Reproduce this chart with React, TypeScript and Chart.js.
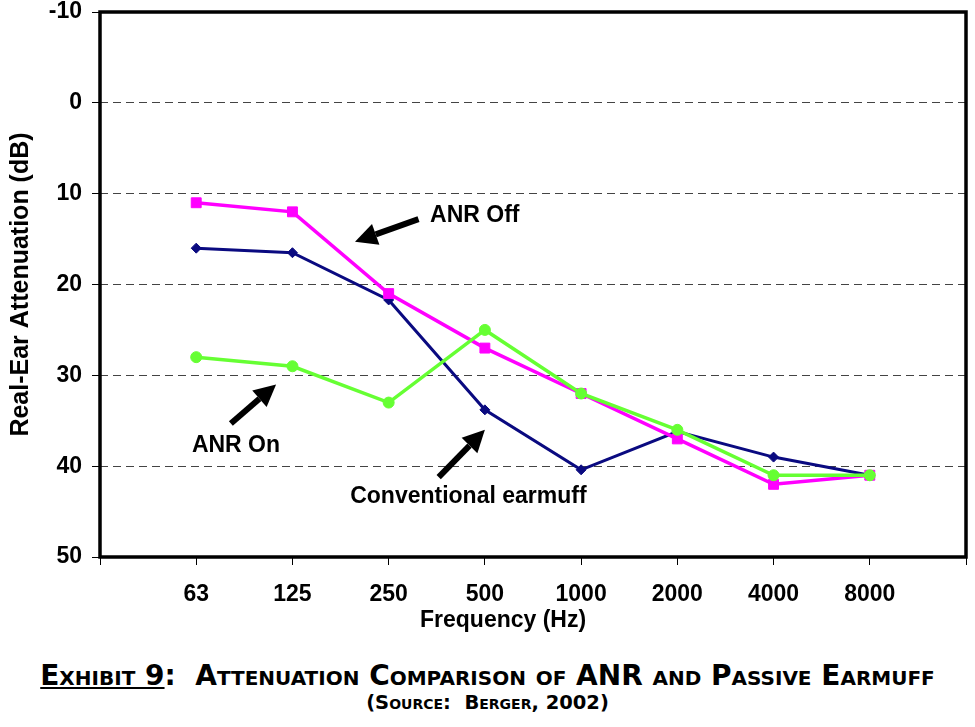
import React, { useEffect, useRef } from "react"
import { Chart, registerables } from "chart.js"

Chart.register(...registerables)

const frequencies = ["63", "125", "250", "500", "1000", "2000", "4000", "8000"]
const conventional = [16, 16.5, 21.7, 33.8, 40.4, 36.2, 39, 41]
const anrOff = [11, 12, 21, 27, 32, 37, 42, 41]
const anrOn = [28, 29, 33, 25, 32, 36, 41, 41]
const yMin = -10
const yMax = 50

// callouts in data units: x = slot index (63 Hz is slot 1), y = dB
const callouts = [
  { text: "ANR Off", tx: 3.43, ty: 12.4, from: [3.31, 12.8], to: [2.65, 15.3] },
  { text: "ANR On", tx: 0.955, ty: 37.7, from: [1.36, 35.3], to: [1.83, 31.0] },
  { text: "Conventional earmuff", tx: 2.6, ty: 43.4, from: [3.52, 41.2], to: [4.0, 36.0] },
]

const FONT = "'Liberation Sans', Arial, sans-serif"

const points = (vals: number[]) => vals.map((v, i) => ({ x: i + 1, y: v }))

const framePlugin = {
  id: "frame",
  afterDraw(chart: Chart) {
    const { ctx, chartArea } = chart
    ctx.save()
    ctx.strokeStyle = "#000"
    ctx.lineWidth = 3.5
    ctx.strokeRect(chartArea.left, chartArea.top, chartArea.right - chartArea.left, chartArea.bottom - chartArea.top)
    ctx.restore()
  },
}

const calloutPlugin = {
  id: "callouts",
  afterDatasetsDraw(chart: Chart) {
    const { ctx } = chart
    const xs = chart.scales.x
    const ys = chart.scales.y
    ctx.save()
    ctx.fillStyle = "#000"
    ctx.strokeStyle = "#000"
    ctx.font = `bold 23px ${FONT}`
    ctx.textBaseline = "middle"
    ctx.textAlign = "left"
    callouts.forEach((c) => {
      ctx.fillText(c.text, xs.getPixelForValue(c.tx), ys.getPixelForValue(c.ty))

      const x1 = xs.getPixelForValue(c.from[0])
      const y1 = ys.getPixelForValue(c.from[1])
      const x2 = xs.getPixelForValue(c.to[0])
      const y2 = ys.getPixelForValue(c.to[1])
      const ang = Math.atan2(y2 - y1, x2 - x1)
      const head = 22
      const half = 11
      const bx = x2 - head * Math.cos(ang)
      const by = y2 - head * Math.sin(ang)

      ctx.lineWidth = 6
      ctx.beginPath()
      ctx.moveTo(x1, y1)
      ctx.lineTo(bx, by)
      ctx.stroke()

      ctx.beginPath()
      ctx.moveTo(x2, y2)
      ctx.lineTo(bx + half * Math.sin(ang), by - half * Math.cos(ang))
      ctx.lineTo(bx - half * Math.sin(ang), by + half * Math.cos(ang))
      ctx.closePath()
      ctx.fill()
    })
    ctx.restore()
  },
}

const AttenuationChart: React.FC = () => {
  const chartRef = useRef<HTMLCanvasElement | null>(null)
  const chartInstance = useRef<Chart | null>(null)

  useEffect(() => {
    if (!chartRef.current) return
    const ctx = chartRef.current.getContext("2d")
    if (!ctx) return
    if (chartInstance.current) chartInstance.current.destroy()

    Chart.defaults.font.family = FONT
    Chart.defaults.color = "#000"

    chartInstance.current = new Chart(ctx, {
      type: "line",
      data: {
        datasets: [
          {
            label: "Conventional earmuff",
            data: points(conventional),
            borderColor: "#0a0a80",
            backgroundColor: "#0a0a80",
            borderWidth: 3,
            pointStyle: "rectRot",
            pointRadius: 5,
            pointBorderWidth: 1,
            order: 3,
          },
          {
            label: "ANR Off",
            data: points(anrOff),
            borderColor: "#ff00ff",
            backgroundColor: "#ff00ff",
            borderWidth: 3.5,
            pointStyle: "rect",
            pointRadius: 7,
            pointBorderWidth: 1,
            order: 2,
          },
          {
            label: "ANR On",
            data: points(anrOn),
            borderColor: "#66ff33",
            backgroundColor: "#66ff33",
            borderWidth: 3.5,
            pointStyle: "circle",
            pointRadius: 5.5,
            pointBorderWidth: 1,
            order: 1,
          },
        ],
      },
      options: {
        animation: false,
        responsive: true,
        maintainAspectRatio: false,
        events: [],
        layout: { padding: { top: 12, right: 9, left: 0, bottom: 0 } },
        plugins: {
          legend: { display: false },
          tooltip: { enabled: false },
        },
        scales: {
          x: {
            type: "linear",
            min: 0,
            max: frequencies.length + 1,
            afterFit: (scale) => {
              scale.height = 93
              scale.paddingLeft = 0
              scale.paddingRight = 0
            },
            ticks: {
              stepSize: 1,
              autoSkip: false,
              maxRotation: 0,
              padding: 16,
              font: { size: 23, weight: "bold" },
              callback: (v) => frequencies[Number(v) - 1] ?? "",
            },
            grid: {
              drawOnChartArea: false,
              drawTicks: true,
              tickLength: 8,
              tickColor: "#000",
              tickWidth: 1,
            },
            border: { display: false },
          },
          y: {
            reverse: true,
            min: yMin,
            max: yMax,
            afterFit: (scale) => {
              scale.width = 100
              scale.paddingTop = 0
              scale.paddingBottom = 0
            },
            ticks: {
              stepSize: 10,
              padding: 10,
              font: { size: 23, weight: "bold" },
            },
            grid: {
              color: (c) => (c.tick && (c.tick.value === yMin || c.tick.value === yMax) ? "rgba(0,0,0,0)" : "#444"),
              lineWidth: 1,
              drawTicks: true,
              tickLength: 8,
              tickColor: "#000",
              tickWidth: 1,
              tickBorderDash: [],
            },
            border: { display: false, dash: [8, 5] },
            title: {
              display: true,
              text: "Real-Ear Attenuation (dB)",
              font: { size: 25, weight: "bold" },
              padding: { top: 6, bottom: 0 },
            },
          },
        },
      },
      plugins: [framePlugin, calloutPlugin],
    })

    return () => {
      if (chartInstance.current) {
        chartInstance.current.destroy()
        chartInstance.current = null
      }
    }
  }, [])

  return <canvas ref={chartRef} />
}

export default function App() {
  return (
    <div style={{ position: "absolute", left: 0, top: 0, width: 975, height: 727, background: "#fff" }}>
      <div style={{ position: "absolute", left: 0, top: 0, width: 975, height: 650 }}>
        <AttenuationChart />
      </div>
      <div
        style={{
          position: "absolute",
          left: 420,
          top: 608,
          fontFamily: FONT,
          fontWeight: "bold",
          fontSize: 23,
          lineHeight: "23px",
          whiteSpace: "pre",
          color: "#000",
        }}
      >
        Frequency (Hz)
      </div>
      <div
        style={{
          position: "absolute",
          left: 0,
          width: 975,
          top: 660,
          textAlign: "center",
          fontFamily: "'DejaVu Sans', sans-serif",
          fontWeight: "bold",
          fontVariant: "small-caps",
          fontSize: 28,
          lineHeight: "32px",
          whiteSpace: "pre",
          color: "#000",
        }}
      >
        <span style={{ textDecoration: "underline" }}>Exhibit 9</span>
        {":  Attenuation Comparison of ANR and Passive Earmuff"}
      </div>
      <div
        style={{
          position: "absolute",
          left: 0,
          width: 975,
          top: 692,
          textAlign: "center",
          fontFamily: "'DejaVu Sans', sans-serif",
          fontWeight: "bold",
          fontVariant: "small-caps",
          fontSize: 19.5,
          lineHeight: "22px",
          whiteSpace: "pre",
          color: "#000",
        }}
      >
        {"(Source:  Berger, 2002)"}
      </div>
    </div>
  )
}
